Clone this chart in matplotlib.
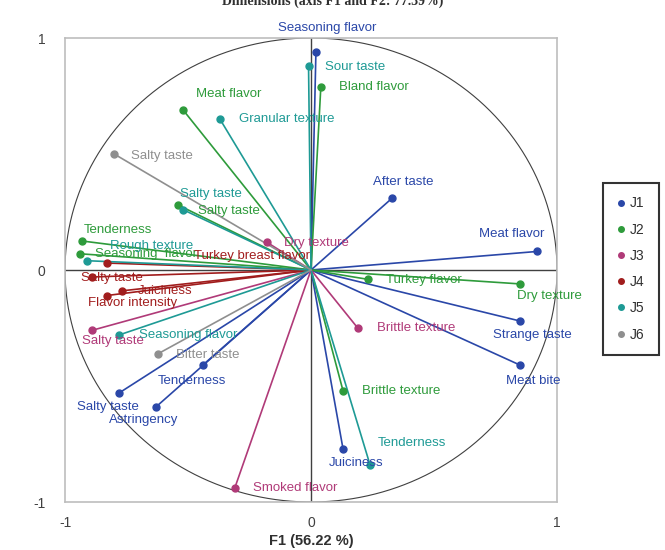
import numpy as np
import matplotlib
matplotlib.use("Agg")
import matplotlib.pyplot as plt
from matplotlib.lines import Line2D

plt.rcParams['font.family'] = ['Liberation Sans', 'DejaVu Sans']

# ---- data ----
groups = ["J1", "J2", "J3", "J4", "J5", "J6"]
colors = ["#2a47a8", "#2e9b3b", "#b03a78", "#a11d1d", "#1e9a95", "#8f8f8f"]

j1_names = ["Seasoning flavor", "After taste", "Meat flavor", "Strange taste", "Meat bite",
            "Juiciness", "Tenderness", "Salty taste", "Astringency"]
j1_f1 = [0.02, 0.33, 0.92, 0.85, 0.85, 0.13, -0.44, -0.78, -0.63]
j1_f2 = [0.94, 0.31, 0.08, -0.22, -0.41, -0.77, -0.41, -0.53, -0.59]

j2_names = ["Bland flavor", "Meat flavor", "Salty taste", "Tenderness", "Seasoning  flavor",
            "Turkey flavor", "Dry texture", "Brittle texture"]
j2_f1 = [0.04, -0.52, -0.54, -0.93, -0.94, 0.23, 0.85, 0.13]
j2_f2 = [0.79, 0.69, 0.28, 0.125, 0.07, -0.04, -0.06, -0.52]

j3_names = ["Dry texture", "Salty taste", "Brittle texture", "Smoked flavor"]
j3_f1 = [-0.18, -0.89, 0.19, -0.31]
j3_f2 = [0.12, -0.26, -0.25, -0.94]

j4_names = ["Turkey breast flavor", "Salty taste", "Juiciness", "Flavor intensity"]
j4_f1 = [-0.83, -0.89, -0.77, -0.83]
j4_f2 = [0.03, -0.03, -0.09, -0.11]

j5_names = ["Sour taste", "Granular texture", "Salty taste", "Rough texture",
            "Seasoning flavor", "Tenderness"]
j5_f1 = [-0.01, -0.37, -0.52, -0.91, -0.78, 0.24]
j5_f2 = [0.88, 0.65, 0.26, 0.04, -0.28, -0.84]

j6_names = ["Salty taste", "Bitter taste"]
j6_f1 = [-0.80, -0.62]
j6_f2 = [0.50, -0.36]

x_ticks = [-1, 0, 1]
y_ticks = [-1, 0, 1]
title = "Dimensions (axis F1 and F2: 77.39%)"
xlabel = "F1 (56.22 %)"

# label offsets in pixels (dx right, dy up) -- styling
j1_off = [(11, 24), (11, 16), (-26, 17), (12, -14), (13, -16), (13, -14), (-11, -16), (-11, -14), (-12, -13)]
j2_off = [(53, 0), (46, 16), (51, -6), (36, 11), (66, 0), (56, -1), (29, -12), (58, 0)]
j3_off = [(50, -1), (21, -11), (58, 0), (60, 0)]
j4_off = [(145, 7), (20, -1), (44, 0), (26, -7)]
j5_off = [(47, -1), (67, 0), (28, 16), (64, 15), (69, 0), (42, 22)]
j6_off = [(48, -2), (49, -1)]

series = [
    (j1_names, j1_f1, j1_f2, j1_off),
    (j2_names, j2_f1, j2_f2, j2_off),
    (j3_names, j3_f1, j3_f2, j3_off),
    (j4_names, j4_f1, j4_f2, j4_off),
    (j5_names, j5_f1, j5_f2, j5_off),
    (j6_names, j6_f1, j6_f2, j6_off),
]

fig = plt.figure(figsize=(6.65, 5.5), dpi=100)
ax = fig.add_axes([65 / 665, 1 - 502 / 550, 492 / 665, 464 / 550])
ax.set_xlim(-1, 1)
ax.set_ylim(-1, 1)

# circle of correlations
t = np.linspace(0, 2 * np.pi, 400)
ax.plot(np.cos(t), np.sin(t), color="#404040", lw=0.8, zorder=1)
ax.axhline(0, color="#404040", lw=1.0, zorder=1)
ax.axvline(0, color="#404040", lw=1.0, zorder=1)

for (names, xs, ys, offs), c in zip(series, colors):
    for n, x, y, (dx, dy) in zip(names, xs, ys, offs):
        ax.plot([0, x], [0, y], color=c, lw=1.2, zorder=2, solid_capstyle='round')
        ax.plot([x], [y], 'o', color=c, ms=5, zorder=3, clip_on=False)
        ax.annotate(n, (x, y), xytext=(dx, dy), textcoords='offset pixels',
                    ha='center', va='center', color=c, fontsize=9.5,
                    annotation_clip=False, zorder=4)

ax.set_xticks(x_ticks)
ax.set_yticks(y_ticks)
ax.set_xticklabels([str(v) for v in x_ticks])
ax.set_yticklabels([str(v) for v in y_ticks])
ax.tick_params(length=0, labelsize=10, labelcolor="#404040", pad=10)
ax.tick_params(axis='y', pad=14)
for s in ax.spines.values():
    s.set_color("#bdbdbd")
    s.set_linewidth(1.2)

ax.set_xlabel(xlabel, fontsize=10.5, fontweight='bold', color="#303030", labelpad=3)

fig.text(0.5, 0.997, title, ha='center', va='center', fontsize=10,
         fontweight='bold', family=['Liberation Serif', 'DejaVu Serif'], color="#303030")

handles = [Line2D([0], [0], marker='o', linestyle='none', color=c, ms=4) for c in colors]
leg = fig.legend(handles, groups, loc='center', bbox_to_anchor=(631 / 665, 1 - 269 / 550),
                 frameon=True, fancybox=False, fontsize=10, labelspacing=0.88,
                 handlelength=0.6, handletextpad=0.35, borderpad=1.0, edgecolor='black',
                 borderaxespad=0)
leg.get_frame().set_linewidth(1.5)
for txt in leg.get_texts():
    txt.set_color("#303030")

fig.savefig("out.png", dpi=100)
